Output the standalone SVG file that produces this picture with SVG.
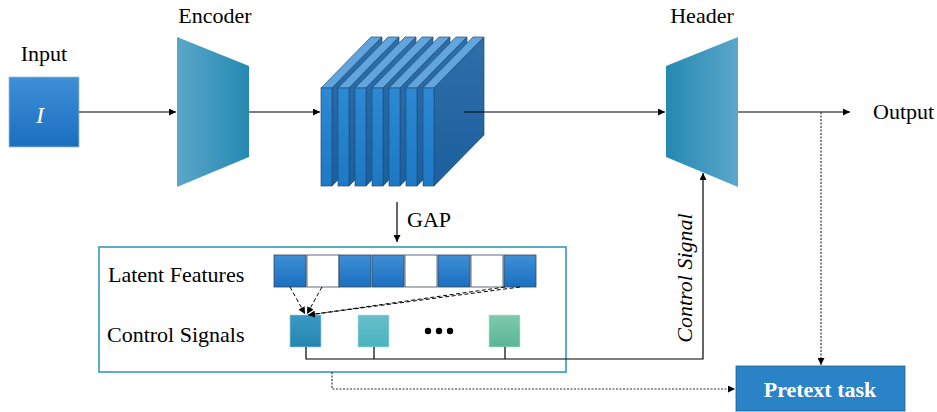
<svg xmlns="http://www.w3.org/2000/svg" width="937" height="412" viewBox="0 0 937 412">
<defs>
<linearGradient id="gIn" x1="0" y1="0" x2="0" y2="1"><stop offset="0" stop-color="#3f8fd6"/><stop offset="1" stop-color="#1a6fc0"/></linearGradient>
<linearGradient id="gEnc" x1="0" y1="0" x2="1" y2="0"><stop offset="0" stop-color="#5aa6c9"/><stop offset="1" stop-color="#2589b2"/></linearGradient>
<linearGradient id="gHead" x1="0" y1="0" x2="1" y2="0"><stop offset="0" stop-color="#2589b2"/><stop offset="1" stop-color="#5ba7ca"/></linearGradient>
<linearGradient id="gFront" x1="0" y1="0" x2="0" y2="1"><stop offset="0" stop-color="#2d89d3"/><stop offset="1" stop-color="#1e78c3"/></linearGradient>
<linearGradient id="gSide" x1="0" y1="0" x2="0" y2="1"><stop offset="0" stop-color="#2f6fa9"/><stop offset="1" stop-color="#1b5f9e"/></linearGradient>
<linearGradient id="gCs1" x1="0" y1="0" x2="0" y2="1"><stop offset="0" stop-color="#3b9ac4"/><stop offset="1" stop-color="#2486b0"/></linearGradient>
<linearGradient id="gCs2" x1="0" y1="0" x2="0" y2="1"><stop offset="0" stop-color="#66bfca"/><stop offset="1" stop-color="#4ab4c0"/></linearGradient>
<linearGradient id="gCs3" x1="0" y1="0" x2="0" y2="1"><stop offset="0" stop-color="#7ecaae"/><stop offset="1" stop-color="#5bb597"/></linearGradient>
<marker id="ah" viewBox="0 0 10 10" refX="10" refY="5" markerWidth="7" markerHeight="7" orient="auto" markerUnits="userSpaceOnUse"><path d="M0,0 L10,5 L0,10 z" fill="#000"/></marker>
<g id="slab">
<polygon points="0,88 11,88 61,37 50,37" fill="#62a5dc" stroke="#1d4f80" stroke-width="0.7"/>
<polygon points="11,88 61,37 61,135 11,186" fill="url(#gSide)" stroke="#1d4f80" stroke-width="0.7"/>
<rect x="0" y="88" width="11" height="98" fill="url(#gFront)" stroke="#1d4f80" stroke-width="0.7"/>
</g>
</defs>
<style>
text{font-family:"Liberation Serif","Times New Roman",serif;font-size:22px;fill:#000}
.ln{stroke:#000;stroke-width:1.2;fill:none}
.dot{stroke:#333;stroke-width:1.2;fill:none;stroke-dasharray:2 1.5}
.dash{stroke:#000;stroke-width:1;fill:none;stroke-dasharray:4 2.5}
.lat{stroke:#3a4654;stroke-width:0.8}
.blue{fill:url(#gIn)}
.white{fill:#fff}
</style>
<g id="input">
<text x="44" y="61" text-anchor="middle">Input</text>
<rect x="9" y="77" width="70" height="70" fill="url(#gIn)" stroke="#9cbddc" stroke-width="0.8"/>
<text x="40" y="123" text-anchor="middle" style="font-style:italic;font-size:24px;fill:#fff">I</text>
</g>
<g id="encoder">
<text x="215" y="23" text-anchor="middle">Encoder</text>
<polygon points="177,37 249,66 249,157 177,187" fill="url(#gEnc)"/>
</g>
<g id="features">
<use href="#slab" x="321"/>
<use href="#slab" x="338"/>
<use href="#slab" x="355"/>
<use href="#slab" x="372"/>
<use href="#slab" x="389"/>
<use href="#slab" x="406"/>
<use href="#slab" x="423"/>
</g>
<g id="header">
<text x="702" y="23" text-anchor="middle">Header</text>
<polygon points="666,66 738,37 738,187 666,157" fill="url(#gHead)"/>
<text x="873" y="119">Output</text>
</g>
<g id="gap-box">
<rect x="99" y="247" width="467" height="125" fill="none" stroke="#4aa3c8" stroke-width="1.8"/>
<text x="407" y="227">GAP</text>
<text x="108" y="282">Latent Features</text>
<text x="107" y="342">Control Signals</text>
</g>
<g id="latent">
<rect class="lat blue" x="274" y="255" width="32" height="32"/>
<rect class="lat white" x="307" y="255" width="32" height="32"/>
<rect class="lat blue" x="339" y="255" width="32" height="32"/>
<rect class="lat blue" x="372" y="255" width="32" height="32"/>
<rect class="lat white" x="405" y="255" width="32" height="32"/>
<rect class="lat blue" x="438" y="255" width="32" height="32"/>
<rect class="lat white" x="471" y="255" width="32" height="32"/>
<rect class="lat blue" x="504" y="255" width="32" height="32"/>
</g>
<g id="control-signals">
<rect x="290" y="315" width="31" height="32" fill="url(#gCs1)" stroke="#a7cbd9" stroke-width="0.6"/>
<rect x="358" y="315" width="31" height="32" fill="url(#gCs2)" stroke="#b9dde0" stroke-width="0.6"/>
<rect x="489" y="315" width="31" height="32" fill="url(#gCs3)" stroke="#bfe0d2" stroke-width="0.6"/>
<circle cx="428" cy="331" r="3.2" fill="#000"/>
<circle cx="439" cy="331" r="3.2" fill="#000"/>
<circle cx="450" cy="331" r="3.2" fill="#000"/>
</g>
<g id="pretext">
<rect x="736" y="366" width="169" height="45" fill="#2a83c7" stroke="#1f5f94" stroke-width="0.8"/>
<text x="820" y="397" text-anchor="middle" style="font-weight:bold;fill:#fff">Pretext task</text>
</g>
<g id="connectors">
<line class="ln" x1="79" y1="112" x2="176" y2="112" marker-end="url(#ah)"/>
<line class="ln" x1="249" y1="112" x2="320" y2="112" marker-end="url(#ah)"/>
<line class="ln" x1="464" y1="112" x2="665" y2="112" marker-end="url(#ah)"/>
<line class="ln" x1="738" y1="112" x2="850" y2="112" marker-end="url(#ah)"/>
<line class="ln" x1="397" y1="202" x2="397" y2="242" marker-end="url(#ah)"/>
<line class="dash" x1="290" y1="287" x2="305" y2="314" marker-end="url(#ah)"/>
<line class="dash" x1="322" y1="287" x2="307" y2="314" marker-end="url(#ah)"/>
<line class="dash" x1="505" y1="287" x2="308" y2="315"/>
<line class="dash" x1="520" y1="287" x2="308" y2="315" marker-end="url(#ah)"/>
<polyline class="ln" points="306,347 306,359 703,359 703,173" marker-end="url(#ah)"/>
<line class="ln" x1="374" y1="347" x2="374" y2="359"/>
<line class="ln" x1="505" y1="347" x2="505" y2="359"/>
<polyline class="dot" points="821,112 821,365" marker-end="url(#ah)"/>
<polyline class="dot" points="332,372 332,389 735,389" marker-end="url(#ah)"/>
<text transform="translate(692,278) rotate(-90)" text-anchor="middle" style="font-style:italic">Control Signal</text>
</g>
</svg>
